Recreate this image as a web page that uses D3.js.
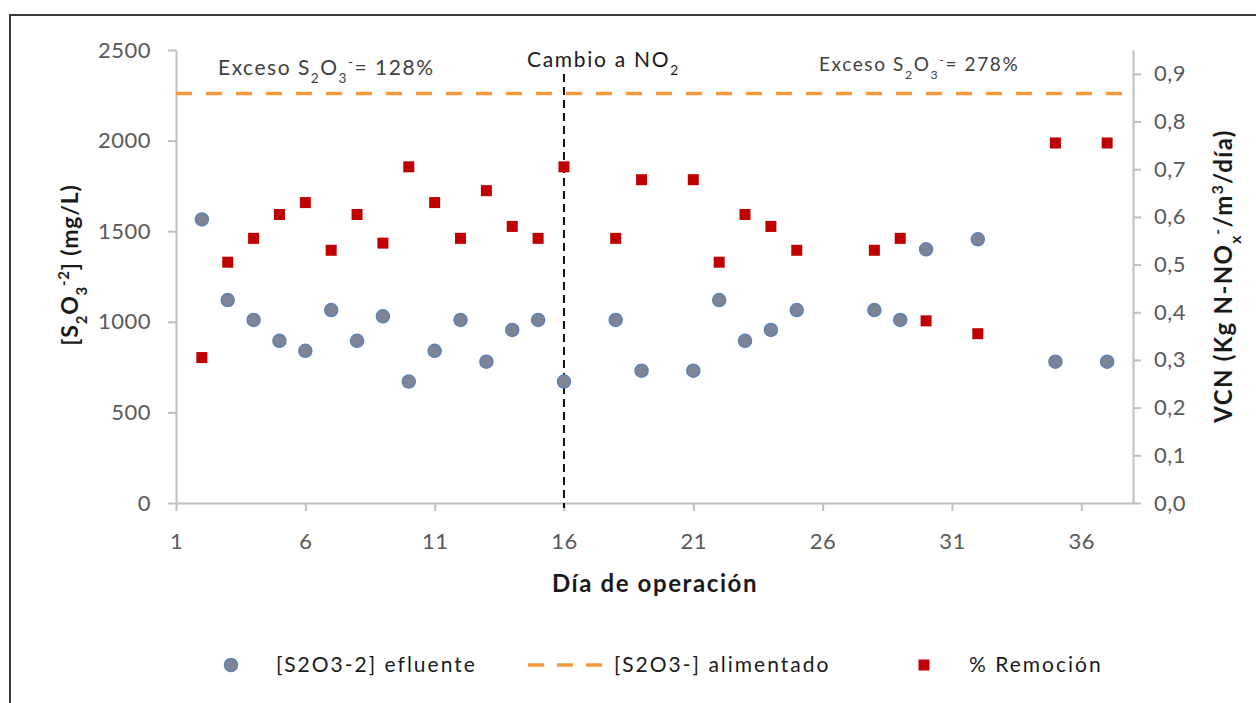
<!DOCTYPE html>
<html>
<head>
<meta charset="utf-8">
<script src="https://cdn.jsdelivr.net/npm/d3@7"></script>
<style>
  body { margin: 0; background: #fff; }
  text { font-family: Lato, "Open Sans", sans-serif; }
</style>
</head>
<body>
<svg id="chart" width="1256" height="703"></svg>
<script>
// days with measurements
const days = [2, 3, 4, 5, 6, 7, 8, 9, 10, 11, 12, 13, 14, 15, 16, 18, 19, 21, 22, 23, 24, 25, 28, 29, 30, 32, 35, 37];
// [S2O3-2] efluente (mg/L), left axis
const efluente = [1565, 1120, 1010, 895, 840, 1065, 895, 1030, 670, 840, 1010, 780, 955, 1010, 670, 1010, 730, 730, 1120, 895, 955, 1065, 1065, 1010, 1400, 1455, 780, 780];
// % Remoción plotted on VCN axis (right)
const remocion = [0.305, 0.505, 0.555, 0.605, 0.630, 0.530, 0.605, 0.545, 0.705, 0.630, 0.555, 0.655, 0.580, 0.555, 0.705, 0.555, 0.678, 0.678, 0.505, 0.605, 0.580, 0.530, 0.530, 0.555, 0.382, 0.355, 0.755, 0.755];
// [S2O3-] alimentado (mg/L), constant
const alimentado = 2260;
const cambioDia = 16;

const xTicks = [1, 6, 11, 16, 21, 26, 31, 36];
const yLeftTicks = [0, 500, 1000, 1500, 2000, 2500];
const yRightTicks = [0, 0.1, 0.2, 0.3, 0.4, 0.5, 0.6, 0.7, 0.8, 0.9];

const margin = { top: 50, right: 123, bottom: 200, left: 176 };
const W = 1256;
const width = W - margin.left - margin.right;
const height = 503 - margin.top;

const svg = d3.select("#chart");

// outer frame
svg.append("rect")
  .attr("x", 10).attr("y", 15)
  .attr("width", 1400).attr("height", 900)
  .attr("fill", "none")
  .attr("stroke", "#3a3a3a")
  .attr("stroke-width", 2);

const g = svg.append("g")
  .attr("transform", `translate(${margin.left}, ${margin.top})`);

const x = d3.scaleLinear().domain([1, 38]).range([0, width]);
const yL = d3.scaleLinear().domain([0, 2500]).range([height, 0]);
const yR = d3.scaleLinear().domain([0, 0.95]).range([height, 0]);

function styleAxis(sel) {
  sel.selectAll("path.domain").attr("stroke", "#bfbfbf").attr("stroke-width", 2);
  sel.selectAll(".tick line").attr("stroke", "#bfbfbf").attr("stroke-width", 2);
  sel.selectAll(".tick text")
    .attr("fill", "#595959")
    .style("font-size", "22px")
    .style("letter-spacing", "0.5px")
    .style("font-family", "Lato, sans-serif");
}

// x axis
g.append("g")
  .attr("transform", `translate(0, ${height})`)
  .call(d3.axisBottom(x).tickValues(xTicks).tickSize(8).tickSizeOuter(0).tickPadding(22))
  .call(styleAxis);

// left axis
g.append("g")
  .call(d3.axisLeft(yL).tickValues(yLeftTicks).tickSize(8).tickSizeOuter(0).tickPadding(17)
    .tickFormat(d3.format("d")))
  .call(styleAxis);

// right axis
g.append("g")
  .attr("transform", `translate(${width}, 0)`)
  .call(d3.axisRight(yR).tickValues(yRightTicks).tickSize(8).tickSizeOuter(0).tickPadding(13)
    .tickFormat((d) => d3.format(".1f")(d).replace(".", ",")))
  .call(styleAxis);

// alimentado line
g.append("line")
  .attr("x1", 0).attr("x2", width)
  .attr("y1", yL(alimentado)).attr("y2", yL(alimentado))
  .attr("stroke", "#f79a3e")
  .attr("stroke-width", 3.5)
  .attr("stroke-dasharray", "16,14");

// cambio a NO2 line
g.append("line")
  .attr("x1", x(cambioDia)).attr("x2", x(cambioDia))
  .attr("y1", 24).attr("y2", height + 5)
  .attr("stroke", "#111")
  .attr("stroke-width", 2)
  .attr("stroke-dasharray", "8,5");

// efluente points
g.selectAll("circle.eff")
  .data(days.map((d, i) => ({ day: d, v: efluente[i] })))
  .enter()
  .append("circle")
  .attr("class", "eff")
  .attr("cx", (d) => x(d.day))
  .attr("cy", (d) => yL(d.v))
  .attr("r", 6.5)
  .attr("fill", "#7c8495")
  .attr("stroke", "#5f82b3")
  .attr("stroke-width", 1.5);

// remocion points
const sq = 11;
g.selectAll("rect.rem")
  .data(days.map((d, i) => ({ day: d, v: remocion[i] })))
  .enter()
  .append("rect")
  .attr("class", "rem")
  .attr("x", (d) => x(d.day) - sq / 2)
  .attr("y", (d) => yR(d.v) - sq / 2)
  .attr("width", sq)
  .attr("height", sq)
  .attr("fill", "#c00000");

// text with sub/superscripts
function chem(sel, parts) {
  parts.forEach((p) => {
    const t = sel.append("tspan").text(p.t);
    if (p.sub) t.attr("baseline-shift", "sub").style("font-size", "0.65em");
    if (p.sup) t.attr("baseline-shift", "super").style("font-size", "0.65em");
  });
}

const ann1 = svg.append("text")
  .attr("x", 218).attr("y", 75)
  .attr("fill", "#404040")
  .style("font-size", "21px")
  .style("letter-spacing", "1.5px");
chem(ann1, [{ t: "Exceso S" }, { t: "2", sub: true }, { t: "O" }, { t: "3", sub: true }, { t: "-", sup: true }, { t: "= 128%" }]);

const ann2 = svg.append("text")
  .attr("x", 527).attr("y", 67)
  .attr("fill", "#1a1a1a")
  .style("font-size", "21px")
  .style("letter-spacing", "1.7px");
chem(ann2, [{ t: "Cambio a NO" }, { t: "2", sub: true }]);

const ann3 = svg.append("text")
  .attr("x", 819).attr("y", 71)
  .attr("fill", "#404040")
  .style("font-size", "19px")
  .style("letter-spacing", "1.6px");
chem(ann3, [{ t: "Exceso S" }, { t: "2", sub: true }, { t: "O" }, { t: "3", sub: true }, { t: "-", sup: true }, { t: "= 278%" }]);

// axis titles
svg.append("text")
  .attr("x", 655).attr("y", 592)
  .attr("text-anchor", "middle")
  .attr("fill", "#1a1a1a")
  .style("font-size", "24px")
  .style("font-weight", "bold")
  .style("letter-spacing", "1.6px")
  .text("Día de operación");

const yTitleL = svg.append("text")
  .attr("transform", "translate(78, 265) rotate(-90)")
  .attr("text-anchor", "middle")
  .attr("fill", "#1a1a1a")
  .style("font-size", "23px")
  .style("font-weight", "bold")
  .style("letter-spacing", "0.8px");
chem(yTitleL, [{ t: "[S" }, { t: "2", sub: true }, { t: "O" }, { t: "3", sub: true }, { t: "-2", sup: true }, { t: "] (mg/L)" }]);

const yTitleR = svg.append("text")
  .attr("transform", "translate(1232, 276) rotate(-90)")
  .attr("text-anchor", "middle")
  .attr("fill", "#1a1a1a")
  .style("font-size", "24px")
  .style("font-weight", "bold")
  .style("letter-spacing", "1.3px");
chem(yTitleR, [{ t: "VCN (Kg N-NO" }, { t: "x", sub: true }, { t: "-", sup: true }, { t: "/m" }, { t: "3", sup: true }, { t: "/día)" }]);

// legend
const legY = 665;
const leg = svg.append("g")
  .style("font-size", "21px")
  .style("letter-spacing", "2px")
  .attr("fill", "#1a1a1a");

leg.append("circle")
  .attr("cx", 231).attr("cy", legY)
  .attr("r", 6.5)
  .attr("fill", "#7c8495")
  .attr("stroke", "#5f82b3")
  .attr("stroke-width", 1.5);
leg.append("text").attr("x", 276).attr("y", legY + 7).text("[S2O3-2] efluente");

leg.append("line")
  .attr("x1", 528).attr("x2", 602)
  .attr("y1", legY).attr("y2", legY)
  .attr("stroke", "#f79a3e")
  .attr("stroke-width", 3.5)
  .attr("stroke-dasharray", "16,13");
leg.append("text").attr("x", 614).attr("y", legY + 7).text("[S2O3-] alimentado");

leg.append("rect")
  .attr("x", 924 - sq / 2).attr("y", legY - sq / 2)
  .attr("width", sq).attr("height", sq)
  .attr("fill", "#c00000");
leg.append("text").attr("x", 969).attr("y", legY + 7).text("% Remoción");
</script>
</body>
</html>
